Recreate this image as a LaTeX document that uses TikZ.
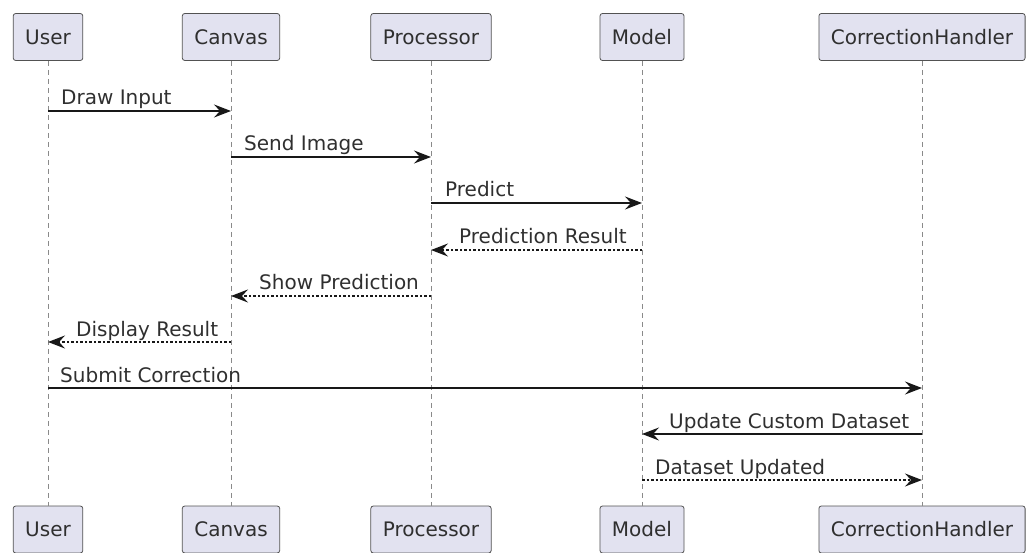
\documentclass[tikz,border=0pt]{standalone}
\usepackage{fontspec}
\setmainfont{DejaVu Sans}
\usetikzlibrary{arrows.meta,positioning}
\definecolor{Ink}{HTML}{181818}
\definecolor{BoxFill}{HTML}{E2E2F0}
\definecolor{LifeLine}{HTML}{8A8A8A}
\tikzset{
  part/.style={draw=Ink!75,line width=0.8pt,rounded corners=2.5pt,fill=BoxFill,text=Ink!90,minimum height=47pt,inner xsep=12pt},
  life/.style={draw=LifeLine,line width=0.7pt,dash pattern=on 5pt off 4pt},
  msg/.style={-{Stealth[length=17pt,width=13pt,inset=6pt]},line width=1.2pt,draw=Ink},
  reply/.style={msg,dash pattern=on 2.5pt off 2pt},
  msglabel/.style={anchor=base west,inner sep=0pt,text=Ink!90}
}

\begin{document}
\begin{tikzpicture}[x=1pt,y=-1pt,font=\fontsize{20}{24}\selectfont]
  \useasboundingbox (0,0) rectangle (1028,553);

  % participants, top and bottom
  \node[part] (user) at (48,37) {User};
  \node[part] (canvas) at (231,37) {Canvas};
  \node[part] (proc) at (431,37) {Processor};
  \node[part] (model) at (642,37) {Model};
  \node[part] (handler) at (922,37) {CorrectionHandler};
  \node[part] (userB) at (48,529.5) {User};
  \node[part] (canvasB) at (231,529.5) {Canvas};
  \node[part] (procB) at (431,529.5) {Processor};
  \node[part] (modelB) at (642,529.5) {Model};
  \node[part] (handlerB) at (922,529.5) {CorrectionHandler};

  \draw[life] (user) -- (userB);
  \draw[life] (canvas) -- (canvasB);
  \draw[life] (proc) -- (procB);
  \draw[life] (model) -- (modelB);
  \draw[life] (handler) -- (handlerB);

  % message rows
  \foreach \i/\y in {1/111,2/157,3/203,4/250,5/296,6/342,7/388,8/434,9/480}
    \coordinate (m\i) at (0,\y);

  \draw[msg] (user |- m1) -- (canvas |- m1);
  \node[msglabel] at ([xshift=13pt,yshift=6pt]user |- m1) {Draw Input};
  \draw[msg] (canvas |- m2) -- (proc |- m2);
  \node[msglabel] at ([xshift=13pt,yshift=6pt]canvas |- m2) {Send Image};
  \draw[msg] (proc |- m3) -- (model |- m3);
  \node[msglabel] at ([xshift=14pt,yshift=6pt]proc |- m3) {Predict};
  \draw[reply] (model |- m4) -- (proc |- m4);
  \node[msglabel] at ([xshift=28pt,yshift=6pt]proc |- m4) {Prediction Result};
  \draw[reply] (proc |- m5) -- (canvas |- m5);
  \node[msglabel] at ([xshift=28pt,yshift=6pt]canvas |- m5) {Show Prediction};
  \draw[reply] (canvas |- m6) -- (user |- m6);
  \node[msglabel] at ([xshift=28pt,yshift=6pt]user |- m6) {Display Result};
  \draw[msg] (user |- m7) -- (handler |- m7);
  \node[msglabel] at ([xshift=12pt,yshift=6pt]user |- m7) {Submit Correction};
  \draw[msg] (handler |- m8) -- (model |- m8);
  \node[msglabel] at ([xshift=27pt,yshift=6pt]model |- m8) {Update Custom Dataset};
  \draw[reply] (model |- m9) -- (handler |- m9);
  \node[msglabel] at ([xshift=13pt,yshift=6pt]model |- m9) {Dataset Updated};
\end{tikzpicture}
\end{document}
